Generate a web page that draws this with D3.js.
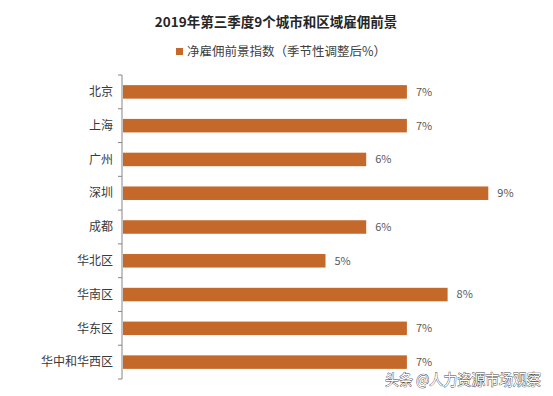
<!DOCTYPE html>
<html lang="zh">
<head>
  <meta charset="UTF-8">
  <title>2019年第三季度9个城市和区域雇佣前景</title>
  <script src="https://d3js.org/d3.v7.min.js"></script>
  <style>
    body {
      margin: 0;
      background: #fff;
      font-family: "Noto Sans CJK SC", sans-serif;
    }
    .cat-label {
      font-size: 12px;
      fill: #3a3a3a;
    }
    .val-label {
      font-size: 11px;
      fill: #595959;
    }
  </style>
</head>
<body>
  <svg width="553" height="396"></svg>

  <script>
    const cities = ["北京", "上海", "广州", "深圳", "成都", "华北区", "华南区", "华东区", "华中和华西区"];
    const values = [7, 7, 6, 9, 6, 5, 8, 7, 7];
    const seriesName = "净雇佣前景指数（季节性调整后%）";
    const title = "2019年第三季度9个城市和区域雇佣前景";
    const barColor = "#c4692a";

    const margin = { top: 75, left: 122 };
    const width = 407;   // 0..10
    const height = 304;

    const svg = d3.select("svg");

    // Title
    svg.append("text")
      .attr("x", 276)
      .attr("y", 27)
      .attr("text-anchor", "middle")
      .attr("font-size", "13.5px")
      .attr("font-weight", "bold")
      .attr("fill", "#262626")
      .text(title);

    // Legend
    svg.append("rect")
      .attr("x", 176)
      .attr("y", 48)
      .attr("width", 7)
      .attr("height", 7)
      .attr("fill", barColor);
    svg.append("text")
      .attr("x", 187)
      .attr("y", 56)
      .attr("font-size", "12.5px")
      .attr("fill", "#404040")
      .text(seriesName);

    const g = svg.append("g")
      .attr("transform", `translate(${margin.left},${margin.top})`);

    const x = d3.scaleLinear()
      .domain([0, 10])
      .range([0, width]);

    const y = d3.scaleBand()
      .domain(cities)
      .range([0, height])
      .paddingInner(0.6)
      .paddingOuter(0.3);

    // Y axis line with ticks at category boundaries
    const yAxis = g.append("g");
    yAxis.append("line")
      .attr("x1", 0).attr("x2", 0)
      .attr("y1", 0).attr("y2", height)
      .attr("stroke", "#868686");
    const step = height / cities.length;
    yAxis.selectAll(".tick")
      .data(d3.range(cities.length + 1))
      .join("line")
      .attr("x1", -4).attr("x2", 0)
      .attr("y1", d => d * step)
      .attr("y2", d => d * step)
      .attr("stroke", "#868686");

    // Category labels
    g.selectAll(".cat-label")
      .data(cities)
      .join("text")
      .attr("class", "cat-label")
      .attr("x", -9)
      .attr("y", d => y(d) + y.bandwidth() / 2)
      .attr("dy", "0.35em")
      .attr("text-anchor", "end")
      .text(d => d);

    // Bars
    g.selectAll(".bar")
      .data(values)
      .join("rect")
      .attr("class", "bar")
      .attr("x", 1)
      .attr("y", (d, i) => y(cities[i]))
      .attr("height", y.bandwidth())
      .attr("width", d => x(d) - 1)
      .attr("fill", barColor);

    // Value labels
    g.selectAll(".val-label")
      .data(values)
      .join("text")
      .attr("class", "val-label")
      .attr("x", d => x(d) + 9)
      .attr("y", (d, i) => y(cities[i]) + y.bandwidth() / 2)
      .attr("dy", "0.35em")
      .text(d => d + "%");

    // Watermark
    svg.append("text")
      .attr("x", 385)
      .attr("y", 385)
      .attr("font-size", "14.5px")
      .attr("textLength", 156)
      .attr("lengthAdjust", "spacingAndGlyphs")
      .attr("fill", "#fff")
      .attr("stroke", "#444")
      .attr("stroke-width", 0.8)
      .attr("paint-order", "stroke")
      .text("头条 @人力资源市场观察");
  </script>
</body>
</html>
